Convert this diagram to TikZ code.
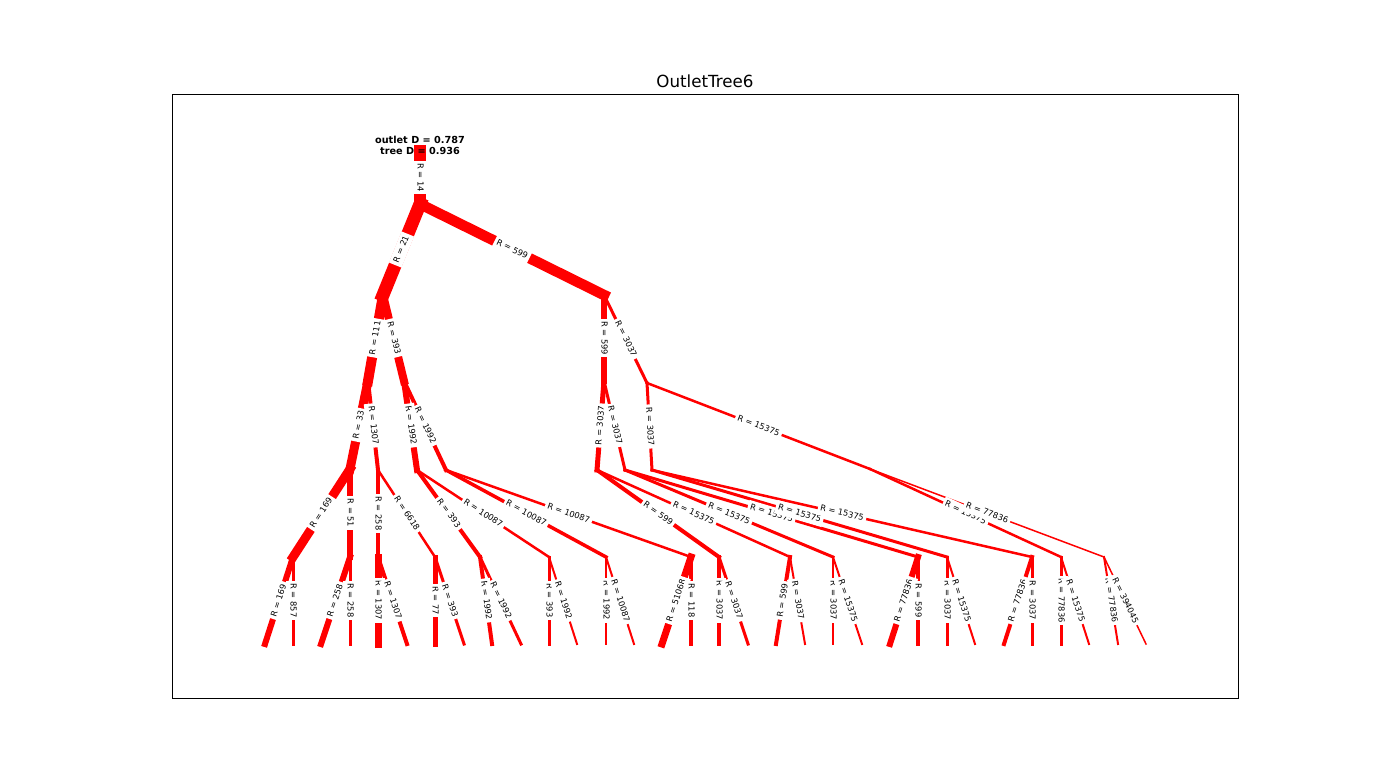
\documentclass[tikz,border=0pt]{standalone}
\usepackage{fontspec}
\setmainfont{DejaVu Sans}
\begin{document}
\begin{tikzpicture}[x=1pt,y=-1pt,
  edge/.style={draw=red, line cap=rect, line join=miter},
  lbl/.style={fill=white, inner xsep=2.5pt, inner ysep=2.9pt, text height=6.2pt, text depth=1.6pt, sloped, text=black, font=\fontsize{8.3}{9}\selectfont},
  frm/.style={draw=black, line width=1.1pt, anchor=north west, inner sep=0pt},
]
\useasboundingbox (0,0) rectangle (1376,784);
\node[frm, minimum width=1066pt, minimum height=604pt] (frame) at (172,94) {};
\node[font=\fontsize{16.7}{20}\selectfont] (title) at (705,81) {OutletTree6};

% tree vertices
\coordinate (r0) at (420,151);
\coordinate (n0) at (420,204);
\coordinate (a) at (383,295);
\coordinate (b) at (604,295);
\coordinate (aa) at (368,381);
\coordinate (ab) at (404,381);
\coordinate (ba) at (604,381);
\coordinate (bb) at (647,383);
\coordinate (aaa) at (350,469);
\coordinate (aab) at (378,470);
\coordinate (aba) at (417,470);
\coordinate (abb) at (446,470);
\coordinate (baa) at (597,470);
\coordinate (bab) at (625,470);
\coordinate (bba) at (652,470);
\coordinate (bbb) at (870,469);
\foreach \i/\x in {1/293,2/350,3/378,4/435,5/480,6/549,7/606,8/691,9/719,10/790,11/833,12/918,13/947,14/1032,15/1061,16/1104}
  \coordinate (c\i) at (\x,557);
\foreach \i/\x in {1/265,2/293,3/321,4/350,5/378,6/407,7/435,8/464,9/492,10/521,11/549,12/577,13/606,14/634,15/662,16/691,17/719,18/748,19/776,20/805,21/833,22/862,23/890,24/918,25/947,26/975,27/1004,28/1032,29/1061,30/1089,31/1118,32/1146}
  \coordinate (l\i) at (\x,644);

\def\edgelist{r0/n0/12.5/14, n0/a/13/21, n0/b/10.5/599,
 a/aa/10/111, a/ab/8/393, b/ba/6/599, b/bb/3/3037,
 aa/aaa/9/33, aa/aab/4/1307, ab/aba/6/1992, ab/abb/4/1992,
 ba/baa/5/3037, ba/bab/3/3037, bb/bba/3/3037, bb/bbb/2.5/15375,
 aaa/c1/9/169, aaa/c2/6/51, aab/c3/4/258, aab/c4/2.5/6618,
 aba/c5/4/393, aba/c6/2.5/10087, abb/c7/3.5/10087, abb/c8/2.5/10087,
 baa/c9/4/599, baa/c10/2.5/15375, bab/c11/3/15375, bab/c12/3/15375,
 bba/c13/3/15375, bba/c14/2.5/15375, bbb/c15/2.5/15375, bbb/c16/1.5/77836,
 c1/l1/6/169, c1/l2/3/857, c2/l3/6/258, c2/l4/3/258,
 c3/l5/7/1307, c3/l6/4/1307, c4/l7/5/77, c4/l8/3/393,
 c5/l9/4/1992, c5/l10/3/1992, c6/l11/3/393, c6/l12/2/1992,
 c7/l13/2.5/1992, c7/l14/2/10087, c8/l15/7/51068, c8/l16/4/118,
 c9/l17/4/3037, c9/l18/3/3037, c10/l19/4/599, c10/l20/2/3037,
 c11/l21/2.5/3037, c11/l22/2/15375, c12/l23/6/77836, c12/l24/4/599,
 c13/l25/3/3037, c13/l26/2/15375, c14/l27/4/77836, c14/l28/3/3037,
 c15/l29/3/77836, c15/l30/2/15375, c16/l31/2/77836, c16/l32/1.5/394045}

\foreach \p/\c/\w/\t in \edgelist
  \draw[edge, line width=\w pt] (\p) -- (\c);
\foreach \p/\c/\w/\t in \edgelist
  \path (\p) -- (\c) node[lbl, midway] {R = \t};

\node[font=\bfseries\fontsize{9.7}{11}\selectfont, align=center] (rootlbl) at (420,145.5) {outlet D = 0.787\\tree D = 0.936};
\end{tikzpicture}
\end{document}
